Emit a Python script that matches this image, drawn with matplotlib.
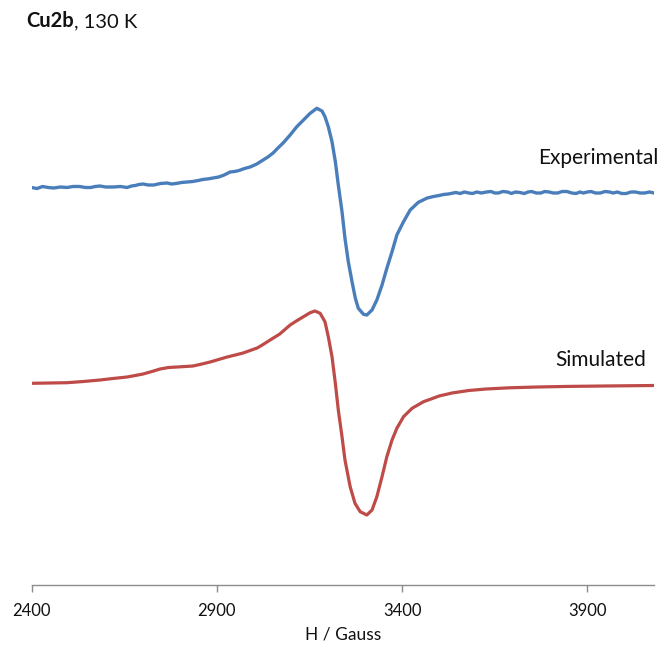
import matplotlib
matplotlib.use("Agg")
import matplotlib.pyplot as plt

# Field (Gauss) and intensity (arbitrary units)
exp_h = [2400, 2415, 2430, 2445, 2460, 2478, 2496, 2512, 2530, 2545, 2560, 2572, 2585, 2600,
         2620, 2640, 2658, 2670, 2680, 2690, 2701, 2715, 2730, 2748, 2766, 2778, 2790, 2805,
         2820, 2835, 2850, 2862, 2874, 2890, 2905, 2920, 2936, 2948, 2960, 2975, 2990, 3008,
         3025, 3038, 3052, 3065, 3079, 3098, 3116, 3134, 3152, 3170, 3184, 3192, 3201, 3211,
         3220, 3228, 3238, 3246, 3255, 3265, 3274, 3282, 3296, 3305, 3319, 3332, 3346, 3359,
         3373, 3386, 3404, 3422, 3444, 3468, 3485, 3500, 3512, 3525, 3545, 3557, 3568, 3580,
         3590, 3602, 3614, 3628, 3640, 3650, 3660, 3672, 3685, 3695, 3706, 3718, 3730, 3740,
         3750, 3762, 3775, 3785, 3797, 3808, 3820, 3832, 3845, 3858, 3870, 3880, 3889, 3900,
         3910, 3922, 3935, 3948, 3960, 3970, 3981, 3993, 4005, 4018, 4030, 4042, 4055, 4068,
         4080]
exp_y = [397.5, 396.5, 398.5, 397.5, 397, 398, 397.5, 398.5, 398.5, 397.5, 397.5, 398.5, 399, 398,
         398, 398.5, 397.5, 399, 399.5, 400.5, 401, 400, 400, 401.5, 402, 401, 401.5, 402.5,
         403, 403.5, 404.5, 405.5, 406, 407, 408, 410, 413, 413.5, 414.5, 416.5, 418, 421,
         425, 428, 432, 437, 442, 450, 458.3, 465, 471.7, 476.7, 474, 468.3, 458.3, 443.3,
         423.3, 400, 373.3, 346.7, 323.3, 303.3, 286.7, 276.7, 270.7, 270, 275, 285, 300, 316.7,
         333.3, 350, 363.3, 375, 382.7, 387, 388.5, 389.5, 390.5, 391, 392.5, 391.5, 393, 392,
         391.5, 393, 392, 393, 393.5, 392, 392, 393.5, 393, 391.5, 393, 392.5, 391.5, 393,
         393.5, 392, 392, 393.5, 393, 392, 392, 393.5, 393.5, 392, 391.5, 393, 392, 393,
         393.5, 392, 392, 393.5, 393, 392, 393, 391.5, 391.5, 393, 393, 392, 392, 393,
         392]

sim_h = [2400, 2450, 2496, 2540, 2585, 2620, 2658, 2680, 2701, 2725, 2747, 2770, 2793, 2815,
         2836, 2860, 2882, 2905, 2928, 2950, 2971, 2990, 3009, 3025, 3044, 3070, 3098, 3116,
         3134, 3152, 3165, 3179, 3192, 3201, 3211, 3220, 3228, 3238, 3246, 3260, 3273, 3287,
         3305, 3319, 3332, 3346, 3359, 3373, 3386, 3404, 3427, 3458, 3476, 3500, 3535, 3580,
         3627, 3690, 3764, 3850, 3946, 4080]
sim_y = [201.7, 202, 202.3, 203.5, 205, 206.5, 208, 209.5, 211, 213.5, 216, 217.5, 218, 218.5,
         219, 221, 223, 225.5, 228, 230, 232, 234.5, 237, 240.5, 245, 251, 260, 264.3,
         268.3, 272.3, 274, 271.7, 263.3, 248.3, 228.3, 201.7, 175, 148.3, 125, 98.3, 81.7, 73.3,
         70, 75, 88.3, 108.3, 128.3, 145, 156.7, 168.3, 176.7, 183.3, 185.7, 189, 192, 194.5,
         196, 197.2, 198, 198.6, 199, 199.5]

xticks = [2400, 2900, 3400, 3900]
xlabel = "H / Gauss"
title_bold = "Cu2b"
title_rest = ", 130 K"
labels = ["Experimental", "Simulated"]

plt.rcParams["font.family"] = ["Lato", "DejaVu Sans"]

fig = plt.figure(figsize=(6.6, 6.48), dpi=100)
ax = fig.add_axes([31.5 / 660, 63 / 648, (654 - 31.5) / 660, (585 - 40) / 648])

ax.plot(exp_h, exp_y, color="#4A7EBB", lw=2.4, solid_joinstyle="round", solid_capstyle="round")
ax.plot(sim_h, sim_y, color="#BE4B48", lw=2.3, solid_joinstyle="round", solid_capstyle="round")

ax.set_xlim(2400, 4080)
ax.set_ylim(0, 545)
for s in ["top", "right", "left"]:
    ax.spines[s].set_visible(False)
ax.spines["bottom"].set_color("#8c8c8c")
ax.spines["bottom"].set_linewidth(1.0)
ax.set_yticks([])
ax.set_xticks(xticks)
ax.set_xticklabels([str(t) for t in xticks])
ax.tick_params(axis="x", direction="out", length=5, width=1.0, color="#8c8c8c",
               labelsize=12, pad=8, labelcolor="#111111")
ax.set_xlabel(xlabel, fontsize=12.5, labelpad=5, color="#111111")

ax.text(4092, 427, labels[0], ha="right", va="center", fontsize=15, color="#111111")
ax.text(4059, 225, labels[1], ha="right", va="center", fontsize=15, color="#111111")

base_y = 1 - 27 / 648
t1 = fig.text(26 / 660, base_y, title_bold, fontsize=14.5, fontweight="bold",
              va="baseline", ha="left", color="#111111")
fig.canvas.draw()
bb = t1.get_window_extent(renderer=fig.canvas.get_renderer())
x1 = fig.transFigure.inverted().transform((bb.x1, bb.y0))[0]
fig.text(x1, base_y, title_rest, fontsize=14.5, va="baseline", ha="left", color="#111111")

fig.savefig("out.png", dpi=100)
